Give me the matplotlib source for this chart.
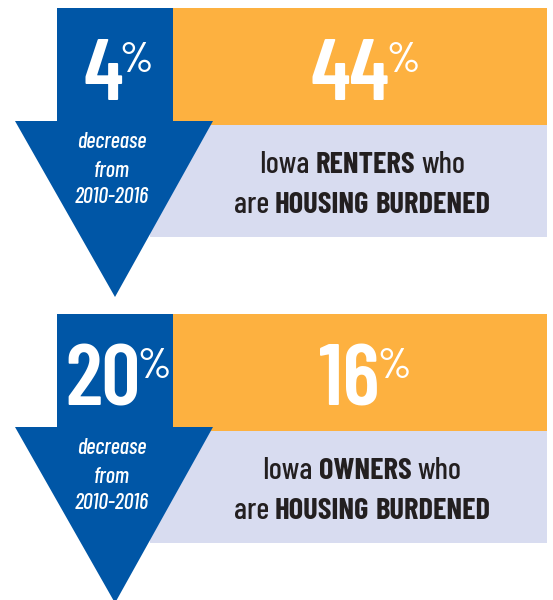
import matplotlib.pyplot as plt
from matplotlib.patches import Rectangle, Polygon

# values shown in the infographic
decrease_pct = [4, 20]
burdened_pct = [44, 16]
groups = ['RENTERS', 'OWNERS']
period = '2010-2016'

BLUE = '#0056A6'
ORANGE = '#FDB140'
LAVENDER = '#D8DCF0'
DARK = '#231F20'
FONT = ['Barlow Condensed', 'DejaVu Sans']

W, H = 553, 600
fig = plt.figure(figsize=(W / 100, H / 100), dpi=100)
ax = fig.add_axes([0, 0, 1, 1])
ax.set_xlim(0, W)
ax.set_ylim(H, 0)
ax.axis('off')
fig.canvas.draw()
renderer = fig.canvas.get_renderer()


def width(s, **kw):
    t = ax.text(0, 0, s, family=FONT, **kw)
    w = t.get_window_extent(renderer).width
    t.remove()
    return w


def words_line(words, cx, y, size, color):
    # words: list of (text, weight), centred on cx, baseline at y
    gap = width('x x', fontsize=size, fontweight=600) - width('xx', fontsize=size, fontweight=600)
    ws = [width(s, fontsize=size, fontweight=wt) for s, wt in words]
    x = cx - (sum(ws) + gap * (len(words) - 1)) / 2
    for (s, wt), w in zip(words, ws):
        ax.text(x, y, s, family=FONT, fontsize=size, fontweight=wt,
                color=color, ha='left', va='baseline')
        x += w + gap


def big_pct(value, cx, y, size):
    num = str(value)
    psize = size * 0.5
    wn = width(num, fontsize=size, fontweight=600)
    wp = width('%', fontsize=psize, fontweight=500)
    x = cx - (wn + wp - 3) / 2
    cap = size * 100 / 72 * 0.7
    ax.text(x, y, num, family=FONT, fontsize=size, fontweight=600,
            color='white', ha='left', va='baseline')
    ax.text(x + wn - 3, y - cap * 0.47, '%', family=FONT, fontsize=psize,
            fontweight=500, color='white', ha='left', va='baseline')


for i, top in enumerate([8, 314]):
    ax.add_patch(Rectangle((173, top), 374, 117, facecolor=ORANGE, edgecolor='none'))
    ax.add_patch(Rectangle((150, top + 117), 397, 112, facecolor=LAVENDER, edgecolor='none'))
    ax.add_patch(Polygon([(57, top), (173, top), (173, top + 113), (213, top + 113),
                          (115, top + 289), (15, top + 113), (57, top + 113)],
                         closed=True, facecolor=BLUE, edgecolor='none'))

    big_pct(decrease_pct[i], 118, top + 92, 62)
    for txt, dy in zip(['decrease', 'from', period], [140, 169, 195]):
        ax.text(112, top + dy, txt, family=FONT, fontsize=16, style='italic',
                fontweight=500, color='white', ha='center', va='baseline')

    big_pct(burdened_pct[i], 365, top + 92, 62)
    words_line([('Iowa', 500), (groups[i], 700), ('who', 500)],
               362, top + 165, 22, DARK)
    words_line([('are', 500), ('HOUSING', 700), ('BURDENED', 700)],
               362, top + 205, 22, DARK)

fig.savefig('out.png', dpi=100)
